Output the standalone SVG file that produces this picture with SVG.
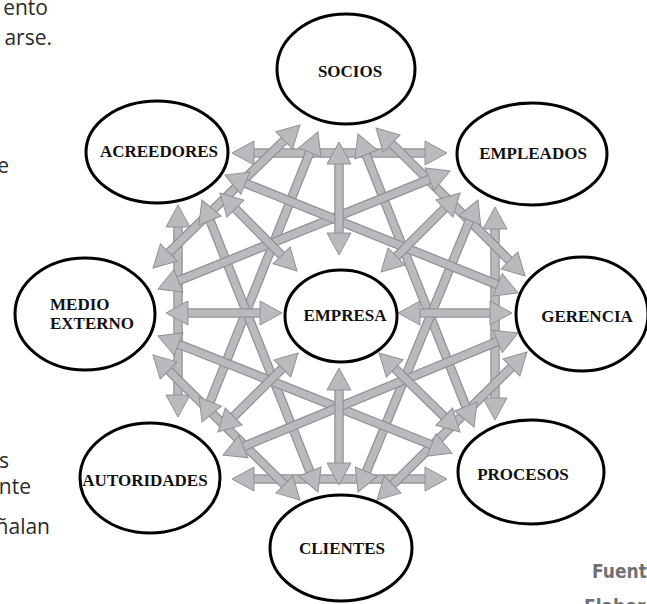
<svg xmlns="http://www.w3.org/2000/svg" width="647" height="604" viewBox="0 0 647 604">
<style>
.o{stroke:#909295;stroke-width:9.5;fill:none}
.f{stroke:#b8babd;stroke-width:7;fill:none;marker-start:url(#h);marker-end:url(#h)}
.n{fill:#fff;stroke:#000;stroke-width:3}
.t{font-family:"Liberation Serif","Times New Roman",serif;font-weight:bold;font-size:17px;fill:#111;text-anchor:middle}
.b{font-family:"Open Sans",Lato,sans-serif;font-size:21px;fill:#2a2a2a;text-anchor:end}
.s{font-family:"DejaVu Sans Condensed","DejaVu Sans",sans-serif;font-weight:bold;font-size:19px;fill:#707173}
</style>
<defs>
<marker id="h" markerUnits="userSpaceOnUse" markerWidth="28" markerHeight="28" viewBox="-2 -14 28 28" refX="10" refY="0" orient="auto-start-reverse" overflow="visible">
<path d="M0,-12 L22,0 L0,12 Z" fill="#b8babd" stroke="#909295" stroke-width="1"/>
</marker>
</defs>
<rect width="647" height="604" fill="#fff"/>
<g id="page-text">
<text class="b" x="48" y="15">ento</text>
<text class="b" x="52" y="45">arse.</text>
<text class="b" x="9" y="173">e</text>
<text class="b" x="9" y="468">s</text>
<text class="b" x="31" y="494">nte</text>
<text class="b" x="50" y="534">ñalan</text>
<text class="s" x="592" y="578">Fuent</text>
<text class="s" x="584" y="613">Elaboració</text>
</g>
<g id="connectors">
<line class="o" x1="244" y1="153" x2="435" y2="153"/><line class="f" x1="244" y1="153" x2="435" y2="153"/>
<line class="o" x1="244" y1="479" x2="435" y2="479"/><line class="f" x1="244" y1="479" x2="435" y2="479"/>
<line class="o" x1="178" y1="217" x2="178" y2="405"/><line class="f" x1="178" y1="217" x2="178" y2="405"/>
<line class="o" x1="495" y1="219" x2="495" y2="408"/><line class="f" x1="495" y1="219" x2="495" y2="408"/>
<line class="o" x1="291.4" y1="133.4" x2="161.6" y2="259.6"/><line class="f" x1="291.4" y1="133.4" x2="161.6" y2="259.6"/>
<line class="o" x1="384.5" y1="136.5" x2="516.5" y2="267.5"/><line class="f" x1="384.5" y1="136.5" x2="516.5" y2="267.5"/>
<line class="o" x1="291.5" y1="491.6" x2="161.5" y2="363.4"/><line class="f" x1="291.5" y1="491.6" x2="161.5" y2="363.4"/>
<line class="o" x1="385.5" y1="491.6" x2="518.5" y2="360.4"/><line class="f" x1="385.5" y1="491.6" x2="518.5" y2="360.4"/>
<line class="o" x1="313.5" y1="143.1" x2="206.5" y2="410.9"/><line class="f" x1="313.5" y1="143.1" x2="206.5" y2="410.9"/>
<line class="o" x1="362.4" y1="145.2" x2="469.6" y2="415.8"/><line class="f" x1="362.4" y1="145.2" x2="469.6" y2="415.8"/>
<line class="o" x1="313.6" y1="480.8" x2="206.4" y2="211.2"/><line class="f" x1="313.6" y1="480.8" x2="206.4" y2="211.2"/>
<line class="o" x1="362.6" y1="480.9" x2="473.4" y2="211.1"/><line class="f" x1="362.6" y1="480.9" x2="473.4" y2="211.1"/>
<line class="o" x1="169.1" y1="284.5" x2="438.9" y2="175.5"/><line class="f" x1="169.1" y1="284.5" x2="438.9" y2="175.5"/>
<line class="o" x1="169.2" y1="340.4" x2="440.8" y2="448.6"/><line class="f" x1="169.2" y1="340.4" x2="440.8" y2="448.6"/>
<line class="o" x1="506.9" y1="288.5" x2="236.1" y2="179.5"/><line class="f" x1="506.9" y1="288.5" x2="236.1" y2="179.5"/>
<line class="o" x1="506.9" y1="337.6" x2="234.1" y2="450.4"/><line class="f" x1="506.9" y1="337.6" x2="234.1" y2="450.4"/>
<line class="o" x1="339" y1="154" x2="339" y2="243"/><line class="f" x1="339" y1="154" x2="339" y2="243"/>
<line class="o" x1="339" y1="380" x2="339" y2="473"/><line class="f" x1="339" y1="380" x2="339" y2="473"/>
<line class="o" x1="178" y1="313" x2="270" y2="313"/><line class="f" x1="178" y1="313" x2="270" y2="313"/>
<line class="o" x1="410" y1="313" x2="500" y2="313"/><line class="f" x1="410" y1="313" x2="500" y2="313"/>
<line class="o" x1="228.4" y1="201.5" x2="288.6" y2="262.5"/><line class="f" x1="228.4" y1="201.5" x2="288.6" y2="262.5"/>
<line class="o" x1="451.5" y1="201.5" x2="389.5" y2="263.5"/><line class="f" x1="451.5" y1="201.5" x2="389.5" y2="263.5"/>
<line class="o" x1="226.5" y1="423.6" x2="289.5" y2="361.4"/><line class="f" x1="226.5" y1="423.6" x2="289.5" y2="361.4"/>
<line class="o" x1="451.4" y1="423.6" x2="387.6" y2="361.4"/><line class="f" x1="451.4" y1="423.6" x2="387.6" y2="361.4"/>
</g>
<g id="n-socios"><ellipse class="n" cx="346" cy="69" rx="69" ry="55"/><text class="t" x="350" y="77">SOCIOS</text></g>
<g id="n-acreedores"><ellipse class="n" cx="157" cy="152" rx="71" ry="51"/><text class="t" x="159" y="157">ACREEDORES</text></g>
<g id="n-empleados"><ellipse class="n" cx="532" cy="154" rx="75" ry="51"/><text class="t" x="533" y="159">EMPLEADOS</text></g>
<g id="n-medio"><ellipse class="n" cx="85" cy="314" rx="70" ry="56"/><text class="t" x="50" y="310" style="text-anchor:start">MEDIO</text><text class="t" x="50" y="329" style="text-anchor:start">EXTERNO</text></g>
<g id="n-empresa"><ellipse class="n" cx="341" cy="316" rx="56" ry="46"/><text class="t" x="345" y="321">EMPRESA</text></g>
<g id="n-gerencia"><ellipse class="n" cx="582" cy="314" rx="66" ry="57"/><text class="t" x="587" y="322">GERENCIA</text></g>
<g id="n-autoridades"><ellipse class="n" cx="150" cy="478" rx="70" ry="55"/><text class="t" x="145" y="486">AUTORIDADES</text></g>
<g id="n-procesos"><ellipse class="n" cx="531" cy="472" rx="73" ry="52"/><text class="t" x="523" y="480">PROCESOS</text></g>
<g id="n-clientes"><ellipse class="n" cx="341" cy="548" rx="71" ry="53"/><text class="t" x="342" y="554">CLIENTES</text></g>
</svg>
